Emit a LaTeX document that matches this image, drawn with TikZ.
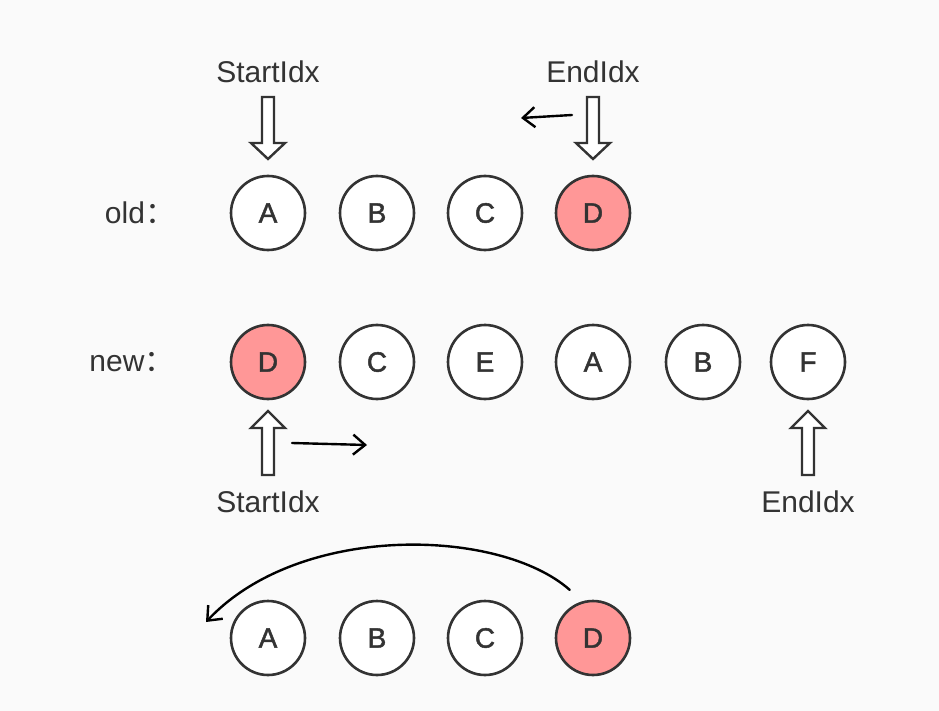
\documentclass[tikz,border=0pt]{standalone}
\usepackage{fontspec}
\setmainfont{Liberation Sans}
\newfontfamily\itemfont[FakeBold=1.6]{Liberation Sans}
\newfontfamily\cjk{Noto Sans CJK SC}
\usetikzlibrary{arrows.meta}

\definecolor{bgcol}{HTML}{FAFAFA}
\definecolor{hitfill}{HTML}{FF9797}
\definecolor{ink}{HTML}{333333}

% hollow pointer arrows (x position as argument)
\newcommand\downptr[1]{\draw[ptr] (#1-6,97) -- (#1+6,97) -- (#1+6,143) -- (#1+17,143) -- (#1,159) -- (#1-17,143) -- (#1-6,143) -- cycle;}
\newcommand\upptr[1]{\draw[ptr] (#1-6,475) -- (#1+6,475) -- (#1+6,428) -- (#1+17,428) -- (#1,411) -- (#1-17,428) -- (#1-6,428) -- cycle;}

\tikzset{
  item/.style={circle, draw=ink, line width=2.6pt, fill=white, minimum size=74pt, inner sep=0pt, text=ink, font=\itemfont\fontsize{28}{34}\selectfont},
  hit/.style={item, fill=hitfill},
  idxtext/.style={text=ink, inner sep=0pt, font=\fontsize{30}{36}\selectfont},
  ptr/.style={draw=ink, line width=2.4pt, fill=white, line join=miter},
  shiftarrow/.style={black, line width=2.4pt, line cap=round, -{Straight Barb[length=12pt,width=20pt,line width=2.4pt]}}
}

\begin{document}
\begin{tikzpicture}[x=1pt, y=-1pt]
  \fill[bgcol] (0,0) rectangle (939,711);
  \useasboundingbox (0,0) rectangle (939,711);

  % old list
  \node[idxtext] (oldlbl) at (140,213) {old{\cjk：}};
  \node[item] (o1) at (268,213) {A};
  \node[item] (o2) at (377,213) {B};
  \node[item] (o3) at (485,213) {C};
  \node[hit]  (o4) at (593,213) {D};

  \node[idxtext] (ostart) at (268,72) {StartIdx};
  \node[idxtext] (oend) at (593,72) {EndIdx};
  \downptr{268}
  \downptr{593}
  \coordinate (oa) at (572,115);
  \coordinate (ob) at (521,118);
  \draw[shiftarrow] (oa) -- (ob);

  % new list
  \node[idxtext] (newlbl) at (132,362) {new{\cjk：}};
  \node[hit]  (n1) at (268,362) {D};
  \node[item] (n2) at (377,362) {C};
  \node[item] (n3) at (485,362) {E};
  \node[item] (n4) at (593,362) {A};
  \node[item] (n5) at (703,362) {B};
  \node[item] (n6) at (808,362) {F};

  \upptr{268}
  \upptr{808}
  \node[idxtext] (nstart) at (268,502) {StartIdx};
  \node[idxtext] (nend) at (808,502) {EndIdx};
  \coordinate (na) at (292,443);
  \coordinate (nb) at (367,445);
  \draw[shiftarrow] (na) -- (nb);

  % result
  \node[item] (r1) at (268,638) {A};
  \node[item] (r2) at (377,638) {B};
  \node[item] (r3) at (485,638) {C};
  \node[hit]  (r4) at (593,638) {D};

  \coordinate (back) at (206,622);
  \draw[shiftarrow, shorten <=17pt] (r4.106) .. controls (500,528) and (300,522) .. (back);
\end{tikzpicture}
\end{document}
